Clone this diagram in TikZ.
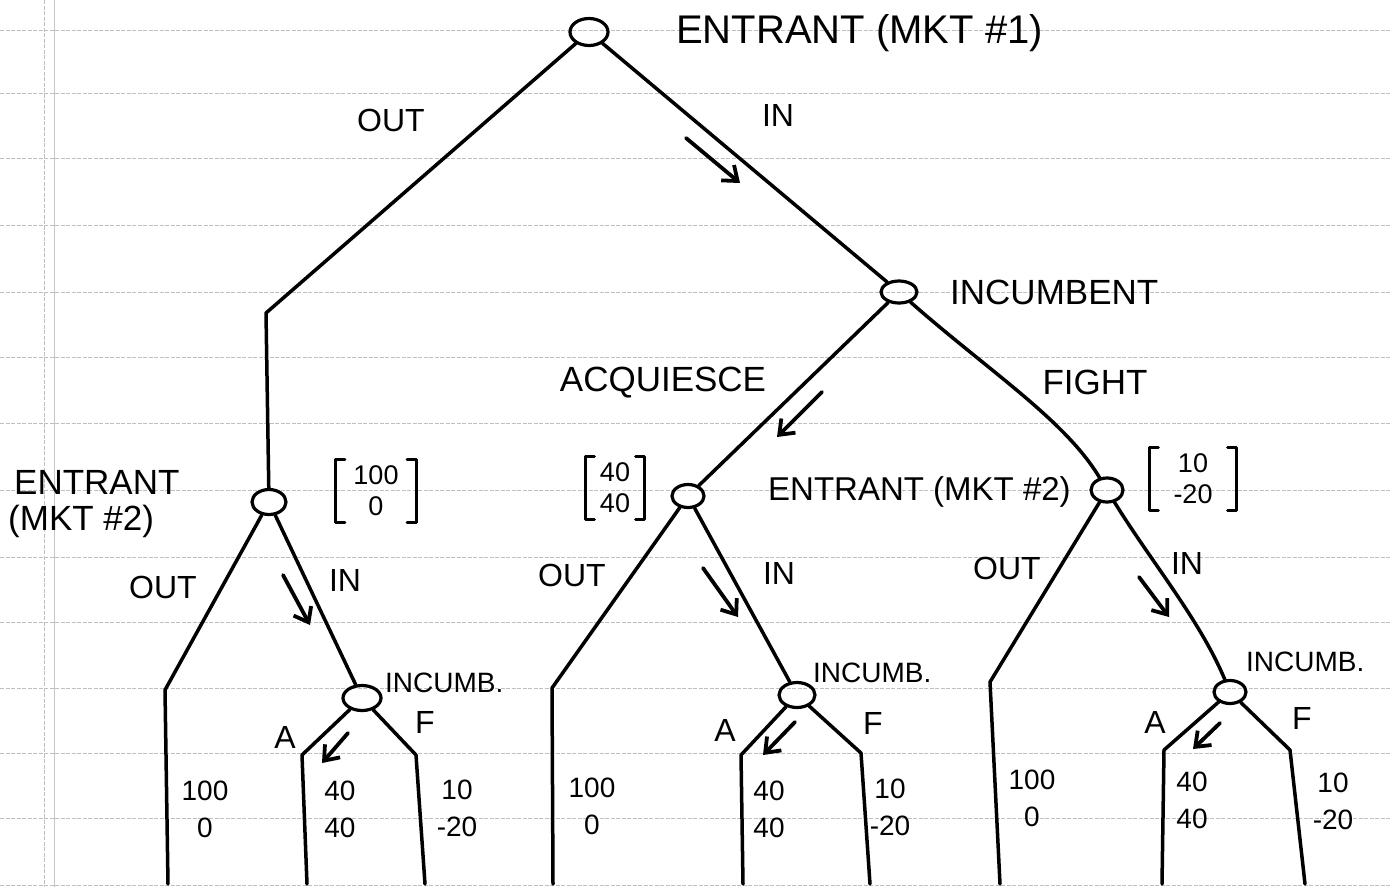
\documentclass[tikz,border=0pt]{standalone}
\usepackage{fontspec}
\setmainfont{Liberation Sans}
\usetikzlibrary{shapes.geometric,arrows.meta}
\begin{document}
\begin{tikzpicture}[x=1pt,y=-1pt,
  paper/.style={gray!50, line width=0.8pt, dash pattern=on 4pt off 1.5pt},
  edge/.style={line width=3.5pt, line join=round, line cap=round},
  dnode/.style={ellipse, draw, line width=3.2pt, minimum width=36pt, minimum height=25pt, inner sep=0pt},
  choice/.style={line width=3.8pt, line cap=round, -{Straight Barb[length=13pt,width=20pt,line width=3.8pt]}},
  lbl/.style={inner sep=0pt, font=\fontsize{32}{32}\selectfont},
  big/.style={inner sep=0pt, font=\fontsize{40}{40}\selectfont},
  mid/.style={inner sep=0pt, font=\fontsize{35}{35}\selectfont},
  small/.style={inner sep=0pt, font=\fontsize{28}{28}\selectfont},
  pay/.style={inner sep=0pt, align=center, font=\fontsize{28}{37}\selectfont},
  bmat/.style={inner sep=0pt, align=center, font=\fontsize{27}{31}\selectfont, minimum width=#1, minimum height=62pt},
  brk/.style={line width=3.2pt, line join=round, line cap=round}
]
\useasboundingbox (0,0) rectangle (1392,887);
% lined paper
\foreach \yy in {30,93,158,225,292,357,423,490,557,622,688,753,818,885}
  \draw[paper] (0,\yy) -- (1392,\yy);
\draw[paper] (44,0) -- (44,887);
\draw[gray!45, line width=0.8pt] (54,0) -- (54,887);

% decision nodes
\node[dnode, minimum width=38pt, minimum height=27pt] (root) at (589,32) {};
\node[dnode, minimum height=22pt] (inc) at (899,292) {};
\node[dnode, minimum width=34pt] (e2a) at (269,502) {};
\node[dnode, minimum width=32pt, minimum height=23pt] (e2b) at (688,496) {};
\node[dnode, minimum width=32pt, minimum height=24pt] (e2c) at (1107,490) {};
\node[dnode, minimum width=38pt] (ia) at (362,698) {};
\node[dnode, minimum width=36pt] (ib) at (797,695) {};
\node[dnode, minimum width=32pt, minimum height=23pt] (ic) at (1230,692) {};

% kinks and ends
\coordinate (kOut) at (266,313);
\coordinate (aOutK) at (165,690); \coordinate (aOutE) at (168,884);
\coordinate (aAK) at (302,755);   \coordinate (aAE) at (307,884);
\coordinate (aFK) at (416,755);   \coordinate (aFE) at (425,884);
\coordinate (bOutK) at (552,688); \coordinate (bOutE) at (553,884);
\coordinate (bAK) at (741,755);   \coordinate (bAE) at (743,884);
\coordinate (bFK) at (861,753);   \coordinate (bFE) at (870,884);
\coordinate (cOutK) at (990,682); \coordinate (cOutE) at (1000,884);
\coordinate (cAK) at (1164,750);  \coordinate (cAE) at (1162,884);
\coordinate (cFK) at (1290,750);  \coordinate (cFE) at (1305,884);

% edges
\draw[edge] (root) -- (kOut) -- (e2a);
\draw[edge] (root) -- (inc);
\draw[edge] (inc) -- (e2b);
\draw[edge] (inc) .. controls (990,372) and (1065,420) .. (e2c);
\draw[edge] (e2a) -- (aOutK) -- (aOutE);
\draw[edge] (e2a) -- (ia);
\draw[edge] (ia) -- (aAK) -- (aAE);
\draw[edge] (ia) -- (aFK) -- (aFE);
\draw[edge] (e2b) -- (bOutK) -- (bOutE);
\draw[edge] (e2b) -- (ib);
\draw[edge] (ib) -- (bAK) -- (bAE);
\draw[edge] (ib) -- (bFK) -- (bFE);
\draw[edge] (e2c) -- (cOutK) -- (cOutE);
\draw[edge] (e2c) .. controls (1150,560) and (1200,620) .. (ic);
\draw[edge] (ic) -- (cAK) -- (cAE);
\draw[edge] (ic) -- (cFK) -- (cFE);

% equilibrium arrows
\draw[choice] (686,138) -- (740,183);
\draw[choice] (822,392) -- (777,437);
\draw[choice] (283,575) -- (310,625);
\draw[choice] (348,733) -- (322,763);
\draw[choice] (703,568) -- (738,617);
\draw[choice] (795,722) -- (763,755);
\draw[choice] (1139,577) -- (1169,617);
\draw[choice] (1220,723) -- (1193,749);

% labels
\node[big, anchor=west] (t1) at (676,33) {ENTRANT (MKT \#1)};
\node[lbl] (tout1) at (391,120) {OUT};
\node[lbl] (tin1) at (778,115) {IN};
\node[mid, anchor=west] (tinc) at (950,292) {INCUMBENT};
\node[mid] (tacq) at (663,383) {ACQUIESCE};
\node[mid] (tfight) at (1095,382) {FIGHT};
\node[mid, anchor=west] (te2a) at (14,482) {ENTRANT};
\node[mid, anchor=west] (te2a2) at (8,521) {(MKT \#2)};
\node[inner sep=0pt, font=\fontsize{33}{33}\selectfont, anchor=west] (te2b) at (768,492) {ENTRANT (MKT \#2)};

\node[lbl] (o1) at (163,587) {OUT};
\node[lbl] (o2) at (572,575) {OUT};
\node[lbl] (o3) at (1007,568) {OUT};
\node[lbl] (i1) at (345,580) {IN};
\node[lbl] (i2) at (779,573) {IN};
\node[lbl] (i3) at (1187,563) {IN};
\node[small, anchor=west] (n1) at (385,683) {INCUMB.};
\node[small, anchor=west] (n2) at (813,673) {INCUMB.};
\node[small, anchor=west] (n3) at (1246,662) {INCUMB.};
\node[lbl] (A1) at (285,737) {A};
\node[lbl] (A2) at (725,730) {A};
\node[lbl] (A3) at (1155,722) {A};
\node[lbl] (F1) at (425,722) {F};
\node[lbl] (F2) at (873,723) {F};
\node[lbl] (F3) at (1302,718) {F};

% payoffs
\node[pay] (p1) at (205,809) {100\\0};
\node[pay] (p2) at (340,809) {40\\40};
\node[pay] (p3) at (457,808) {10\\-20};
\node[pay] (p4) at (592,806) {100\\0};
\node[pay] (p5) at (769,809) {40\\40};
\node[pay] (p6) at (890,807) {10\\-20};
\node[pay] (p7) at (1032,798) {100\\0};
\node[pay] (p8) at (1192,800) {40\\40};
\node[pay] (p9) at (1333,801) {10\\-20};

% bracketed payoff vectors
\node[bmat=80pt] (b1) at (376,491) {100\\0};
\node[bmat=59pt] (b2) at (615,488) {40\\40};
\node[bmat=87pt] (b3) at (1193,479) {10\\-20};
\foreach \b in {b1,b2,b3}{
  \draw[brk] ([xshift=9pt]\b.north west) -- (\b.north west) -- (\b.south west) -- ([xshift=9pt]\b.south west);
  \draw[brk] ([xshift=-9pt]\b.north east) -- (\b.north east) -- (\b.south east) -- ([xshift=-9pt]\b.south east);
}
\end{tikzpicture}
\end{document}
